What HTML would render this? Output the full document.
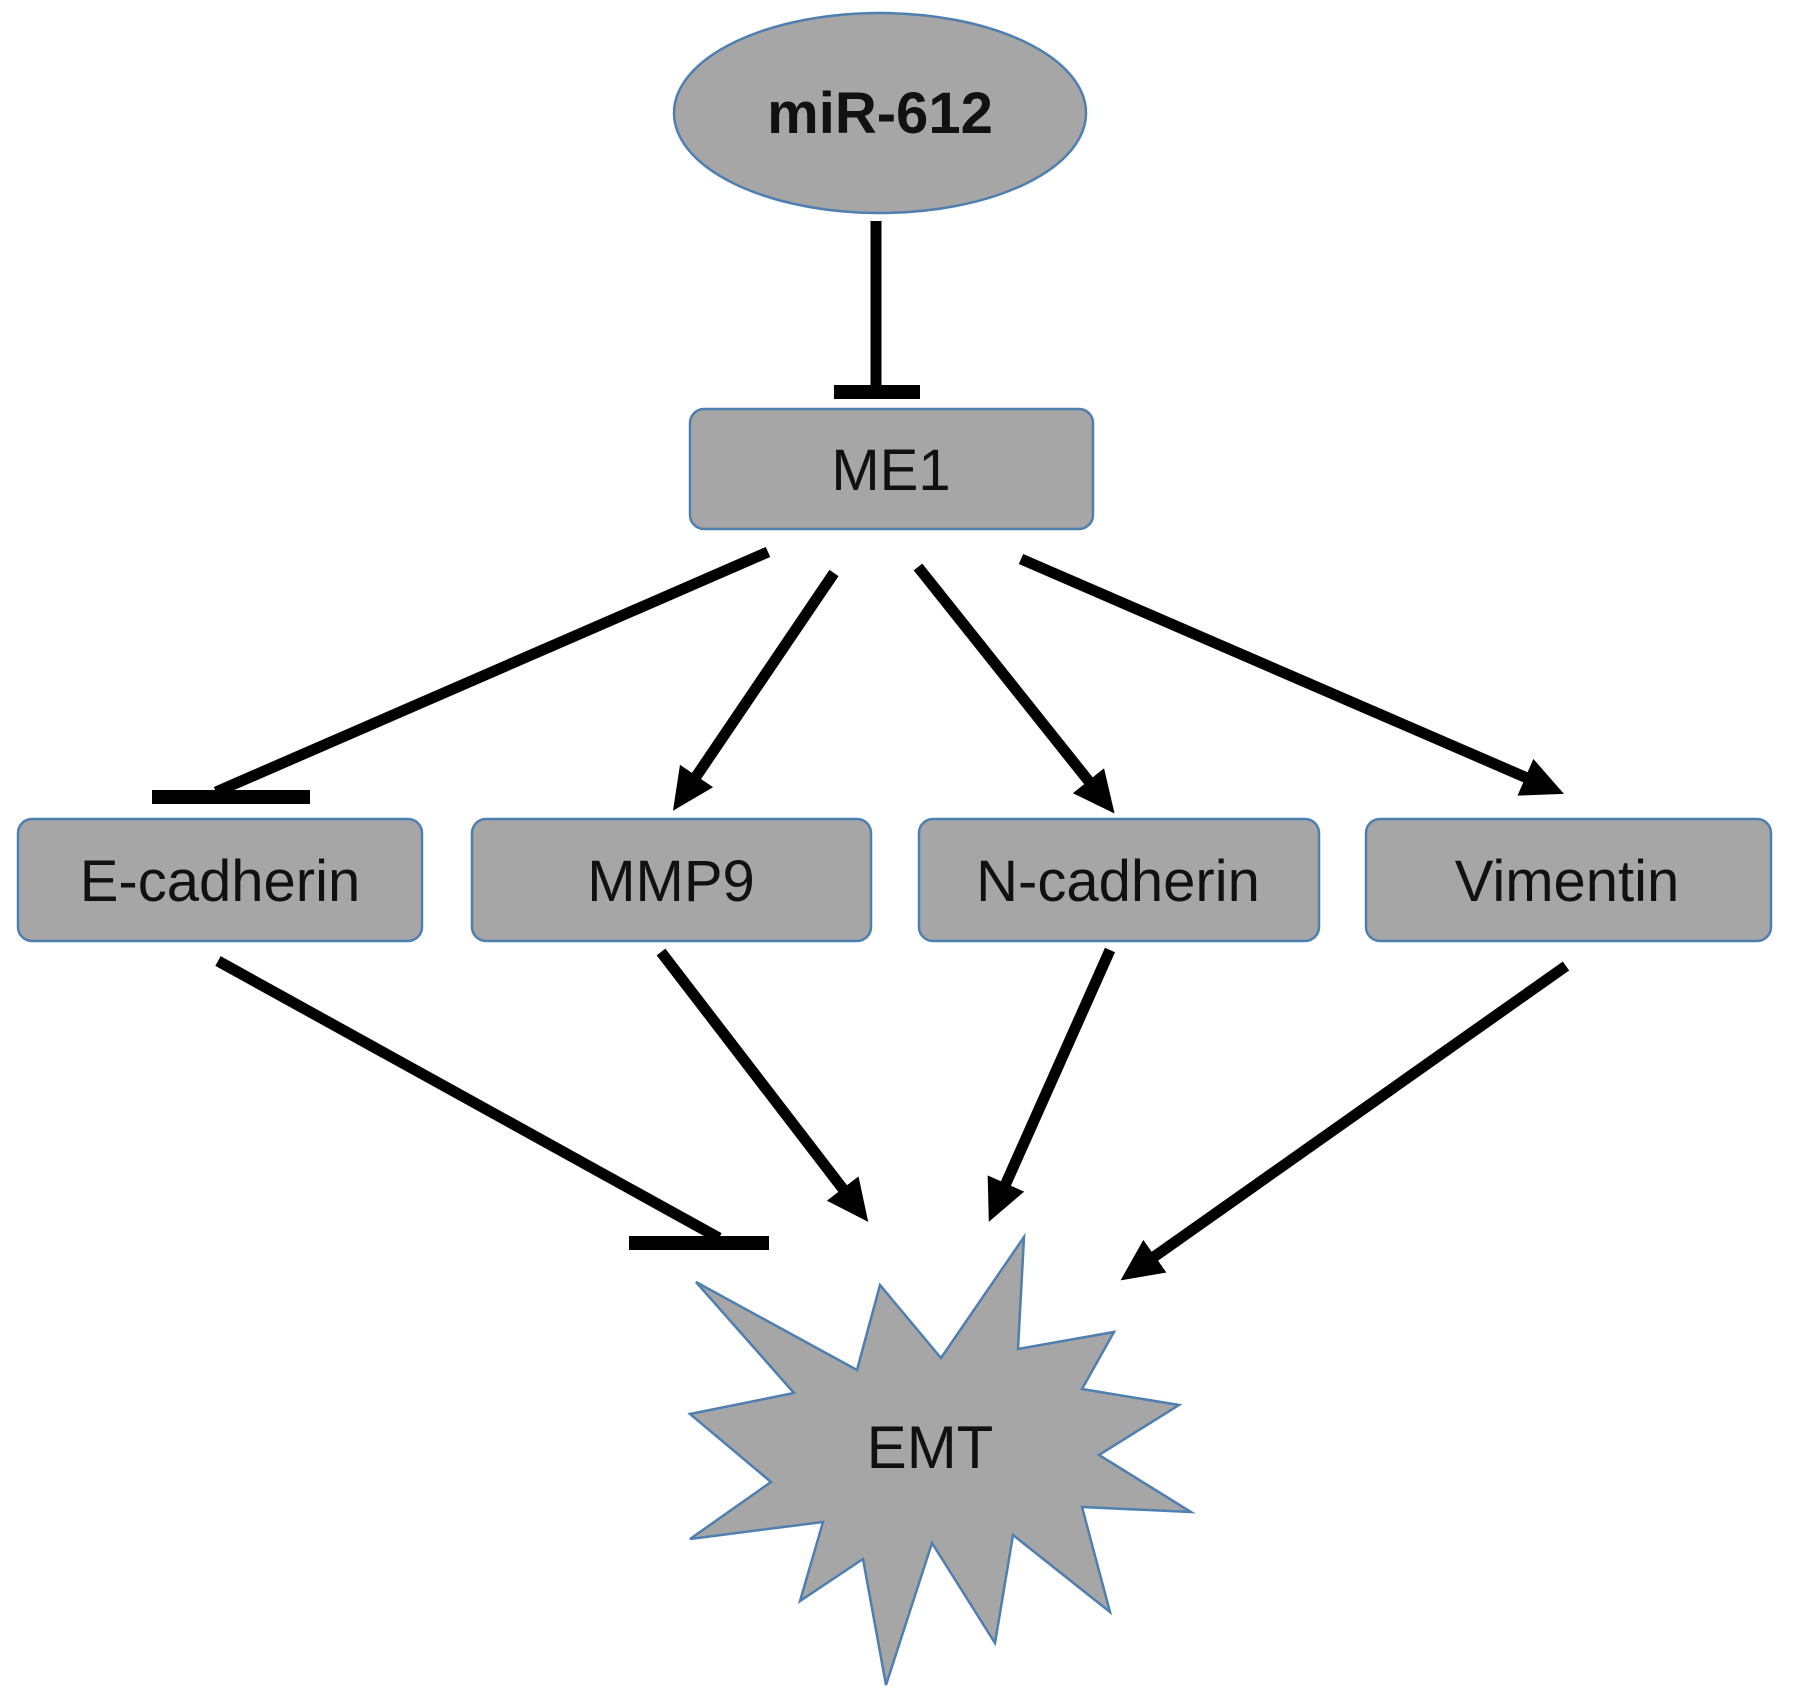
<!DOCTYPE html>
<html><head><meta charset="utf-8"><style>
html,body{margin:0;padding:0;background:#fff;}
svg{display:block;}
text{font-family:"Liberation Sans",Arial,sans-serif;fill:#111;}
</style></head><body>
<svg width="1795" height="1697" viewBox="0 0 1795 1697" xmlns="http://www.w3.org/2000/svg">
<defs>
<marker id="ah" markerUnits="userSpaceOnUse" markerWidth="42" markerHeight="40" viewBox="0 0 42 40" refX="17" refY="20" orient="auto">
<path d="M0,0 L42,20 L0,40 z" fill="#000"/>
</marker>
</defs>
<!-- miR-612 -->
<ellipse cx="880" cy="113" rx="206" ry="100" fill="#a6a6a6" stroke="#4f7fb0" stroke-width="2.5"/>
<text x="880" y="133" font-size="58" font-weight="bold" text-anchor="middle">miR-612</text>
<!-- inhibit to ME1 -->
<line x1="876" y1="221" x2="876" y2="390" stroke="#000" stroke-width="11"/>
<rect x="834" y="385" width="86" height="14" fill="#000"/>
<!-- ME1 -->
<rect x="690" y="409" width="403" height="120" rx="14" fill="#a6a6a6" stroke="#4f7fb0" stroke-width="2.5"/>
<text x="891" y="490" font-size="58" text-anchor="middle">ME1</text>
<!-- ME1 to row -->
<line x1="768" y1="552" x2="216" y2="792" stroke="#000" stroke-width="11"/>
<rect x="152" y="790" width="158" height="14" fill="#000"/>
<line x1="834" y1="573" x2="687" y2="790" stroke="#000" stroke-width="11" marker-end="url(#ah)"/>
<line x1="918" y1="567" x2="1099" y2="794" stroke="#000" stroke-width="11" marker-end="url(#ah)"/>
<line x1="1021" y1="559" x2="1541" y2="784" stroke="#000" stroke-width="11" marker-end="url(#ah)"/>
<!-- row boxes -->
<rect x="18" y="819" width="404" height="122" rx="14" fill="#a6a6a6" stroke="#4f7fb0" stroke-width="2.5"/>
<text x="220" y="901" font-size="58" text-anchor="middle">E-cadherin</text>
<rect x="472" y="819" width="399" height="122" rx="14" fill="#a6a6a6" stroke="#4f7fb0" stroke-width="2.5"/>
<text x="671" y="901" font-size="58" text-anchor="middle">MMP9</text>
<rect x="919" y="819" width="400" height="122" rx="14" fill="#a6a6a6" stroke="#4f7fb0" stroke-width="2.5"/>
<text x="1118" y="901" font-size="58" text-anchor="middle">N-cadherin</text>
<rect x="1366" y="819" width="405" height="122" rx="14" fill="#a6a6a6" stroke="#4f7fb0" stroke-width="2.5"/>
<text x="1567" y="901" font-size="58" text-anchor="middle">Vimentin</text>
<!-- row to EMT -->
<line x1="218" y1="961" x2="719" y2="1238" stroke="#000" stroke-width="11"/>
<rect x="629" y="1236" width="140" height="14" fill="#000"/>
<line x1="661" y1="952" x2="853" y2="1202" stroke="#000" stroke-width="11" marker-end="url(#ah)"/>
<line x1="1110" y1="950" x2="999" y2="1199" stroke="#000" stroke-width="11" marker-end="url(#ah)"/>
<line x1="1566" y1="966" x2="1141" y2="1266" stroke="#000" stroke-width="11" marker-end="url(#ah)"/>
<!-- EMT star -->
<polygon points="1024,1237 1018,1349 1114,1332 1082,1389 1179,1405 1099,1455 1191,1512 1082,1507 1110,1612 1013,1535 995,1643 932,1543 886,1685 863,1559 800,1601 823,1522 690,1539 771,1482 690,1414 794,1393 696,1282 857,1370 880,1285 941,1358" fill="#a6a6a6" stroke="#4f7fb0" stroke-width="2.5" stroke-linejoin="miter"/>
<text x="930" y="1468" font-size="60" text-anchor="middle">EMT</text>
</svg>
</body></html>
